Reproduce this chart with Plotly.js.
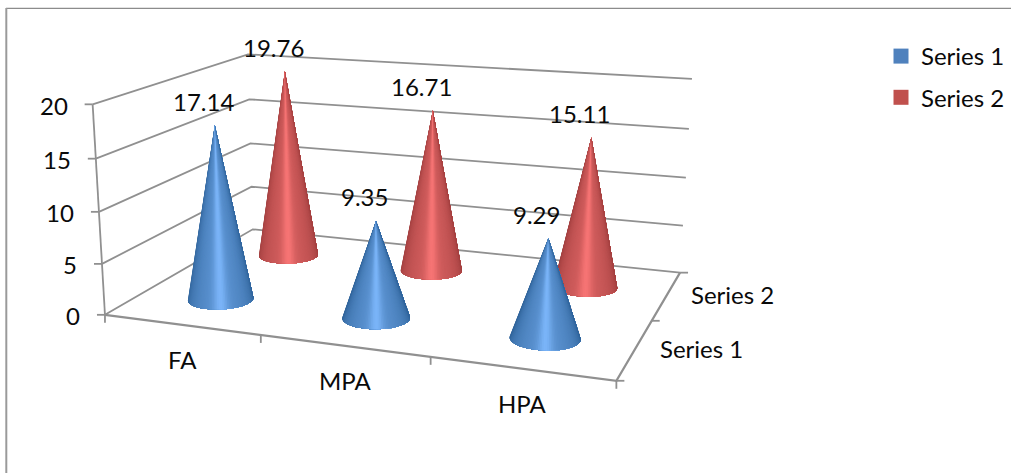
<!DOCTYPE html>
<html>
<head>
<meta charset="utf-8">
<script src="https://cdn.plot.ly/plotly-3.0.1.min.js"></script>
<style>html,body{margin:0;padding:0;background:#fff}#chart{width:1011px;height:473px}</style>
</head>
<body>
<div id="chart"></div>
<script>
// Chart values
const categories = ['FA', 'MPA', 'HPA'];
const seriesNames = ['Series 1', 'Series 2'];
const series1 = [17.14, 9.35, 9.29];
const series2 = [19.76, 16.71, 15.11];
const valueTicks = [0, 5, 10, 15, 20];

// Oblique view of the chart box: box coordinates (category, series, value) -> screen position.
const viewAnchors = [
  [0,0,0, 104.3,314.7],[1,0,0, 260.7,336],[2,0,0, 431.3,356.7],[3,0,0, 617.7,378.3],
  [3,1,0, 649,325],[3,2,0, 680,271.7],[0,2,0, 253,229],
  [0,0,5, 102,263.7],[0,0,10, 99,211.7],[0,0,15, 96,158.3],[0,0,20, 92.7,104.3],
  [0,2,5, 251.7,186.7],[0,2,10, 250.7,143.3],[0,2,15, 250,99],[0,2,20, 246.7,55.3],
  [3,2,5, 683.3,225],[3,2,10, 686.7,177.3],[3,2,15, 689,128.3],[3,2,20, 691.7,79.3]
];

function solveView(anchors) {
  const n = 11, A = Array.from({length: n}, () => new Array(n + 1).fill(0));
  const addRow = (r, b) => {
    for (let i = 0; i < n; i++) {
      for (let j = 0; j < n; j++) A[i][j] += r[i] * r[j];
      A[i][n] += r[i] * b;
    }
  };
  anchors.forEach(([X, Y, Z, x, y]) => {
    addRow([X, Y, Z, 1, 0, 0, 0, 0, -x * X, -x * Y, -x * Z], x);
    addRow([0, 0, 0, 0, X, Y, Z, 1, -y * X, -y * Y, -y * Z], y);
  });
  for (let c = 0; c < n; c++) {
    let p = c;
    for (let r = c + 1; r < n; r++) if (Math.abs(A[r][c]) > Math.abs(A[p][c])) p = r;
    [A[c], A[p]] = [A[p], A[c]];
    for (let r = 0; r < n; r++) {
      if (r === c) continue;
      const f = A[r][c] / A[c][c];
      for (let k = c; k <= n; k++) A[r][k] -= f * A[c][k];
    }
  }
  return A.map((row, i) => row[n] / row[i]);
}
const m = solveView(viewAnchors);
function project(X, Y, Z) {
  const w = m[8] * X + m[9] * Y + m[10] * Z + 1;
  return [(m[0] * X + m[1] * Y + m[2] * Z + m[3]) / w, (m[4] * X + m[5] * Y + m[6] * Z + m[7]) / w];
}

const traces = [];
const annotations = [];
const TEXT = {family: 'Lato, Carlito, sans-serif', size: 24, color: '#0a0a0a'};
const GRID = '#909090';

function polyline(points, width) {
  traces.push({
    x: points.map(p => p[0]), y: points.map(p => p[1]),
    mode: 'lines', line: {color: GRID, width: width || 1.8},
    hoverinfo: 'skip', showlegend: false
  });
}
function label(point, text, dx, dy, anchor) {
  annotations.push({
    x: point[0], y: point[1], xref: 'x', yref: 'y', text: text, showarrow: false,
    xshift: dx, yshift: -dy, xanchor: anchor || 'center', yanchor: 'middle', font: TEXT
  });
}

// Walls and floor
valueTicks.forEach(v => {
  polyline([project(0, 0, v), project(0, 2, v), project(3, 2, v)]);
  const p = project(0, 0, v);
  polyline([[p[0] - 8, p[1]], p]);
  label(p, String(v), -23, 1, 'right');
});
polyline([project(0, 0, 0), project(0, 0, 20)]);
polyline([project(0, 0, 0), project(3, 0, 0), project(3, 2, 0)], 2.2);

// Axis ticks and labels on the floor edges
[0, 1, 2, 3].forEach(i => {
  const p = project(i, 0, 0);
  polyline([p, [p[0], p[1] + 8]]);
});
[0, 1, 2].forEach(j => {
  const p = project(3, j, 0);
  polyline([p, [p[0] + 8, p[1]]]);
});
categories.forEach((c, i) => label(project(i + 0.5, 0, 0), c, 1, 35));
seriesNames.forEach((s, j) => label(project(3, j + 0.5, 0), s, 66, -1));

// Cone surface shading: broad body tone plus a narrow central highlight
const PALETTE = [
  {edge: [48, 100, 155], mid: [122, 180, 248]},
  {edge: [160, 62, 62], mid: [246, 116, 116]}
];
const R_X = 0.195, R_Y = 0.2;

function drawCone(i, j, value) {
  const cx = i + 0.5, cy = j + 0.5, N = 120;
  const apex = project(cx, cy, value);
  const rim = [];
  for (let k = 0; k < N; k++) {
    const a = 2 * Math.PI * k / N;
    rim.push(project(cx + R_X * Math.cos(a), cy + R_Y * Math.sin(a), 0));
  }
  const next = k => (k + 1) % N;
  const turn = k => (rim[k][0] - apex[0]) * (rim[next(k)][1] - apex[1]) - (rim[k][1] - apex[1]) * (rim[next(k)][0] - apex[0]);
  let low = 0;
  for (let k = 0; k < N; k++) if (rim[k][1] > rim[low][1]) low = k;
  const front = Math.sign(turn(low));
  // Walk the near arc of the rim from one silhouette edge to the other
  let first = low, last = low;
  while (Math.sign(turn((first - 1 + N) % N)) === front) first = (first - 1 + N) % N;
  while (Math.sign(turn(next(last))) === front) last = next(last);
  const arc = [];
  for (let k = first; ; k = next(k)) {
    arc.push(rim[k]);
    if (k === next(last)) break;
  }
  if (arc[0][0] > arc[arc.length - 1][0]) arc.reverse();
  const xMin = arc[0][0], xMax = arc[arc.length - 1][0];
  // Each strip also covers everything to its right, so neighbours leave no seams
  for (let k = 0; k < arc.length - 1; k++) {
    const s = 2 * ((arc[k][0] + arc[k + 1][0]) / 2 - xMin) / (xMax - xMin) - 1;
    const b = 0.55 * Math.sqrt(Math.max(0, 1 - s * s)) + 0.45 * Math.exp(-(s * s) / 0.05);
    const col = PALETTE[j].edge.map((e, c) => Math.round(e + (PALETTE[j].mid[c] - e) * b));
    const rest = arc.slice(k);
    traces.push({
      x: [apex[0]].concat(rest.map(p => p[0]), apex[0]),
      y: [apex[1]].concat(rest.map(p => p[1]), apex[1]),
      mode: 'none', fill: 'toself', fillcolor: 'rgb(' + col.join(',') + ')',
      hoverinfo: 'skip', showlegend: false
    });
  }
  label(apex, value.toFixed(2), -11.5, -24);
}
// Back row first so the front row overlaps it
series2.forEach((v, i) => drawCone(i, 1, v));
series1.forEach((v, i) => drawCone(i, 0, v));

// Legend entries
[['#4f81bd', seriesNames[0]], ['#c0504d', seriesNames[1]]].forEach(([color, name]) => {
  traces.push({
    x: [null], y: [null], name: name, legendgroup: name, mode: 'markers',
    marker: {symbol: 'square', size: 15, color: color}, hoverinfo: 'skip'
  });
});

const layout = {
  width: 1011, height: 473,
  margin: {l: 0, r: 0, t: 0, b: 0},
  paper_bgcolor: '#ffffff', plot_bgcolor: '#ffffff',
  xaxis: {range: [0, 1011], visible: false, fixedrange: true},
  yaxis: {range: [473, 0], visible: false, fixedrange: true},
  shapes: [
    {type: 'line', xref: 'x', yref: 'y', x0: 6, x1: 1011, y0: 8.3, y1: 8.3, line: {color: '#8c8c8c', width: 1.2}},
    {type: 'line', xref: 'x', yref: 'y', x0: 6.3, x1: 6.3, y0: 8, y1: 473, line: {color: '#9a9a9a', width: 2}}
  ],
  annotations: annotations,
  legend: {
    x: 881 / 1011, y: 1 - 34 / 473, xanchor: 'left', yanchor: 'top',
    font: {family: TEXT.family, size: 24, color: TEXT.color},
    traceorder: 'grouped', tracegroupgap: 7, bgcolor: 'rgba(0,0,0,0)', itemclick: false, itemdoubleclick: false
  },
  showlegend: true
};
Plotly.newPlot('chart', traces, layout, {displayModeBar: false, staticPlot: true});
</script>
</body>
</html>
